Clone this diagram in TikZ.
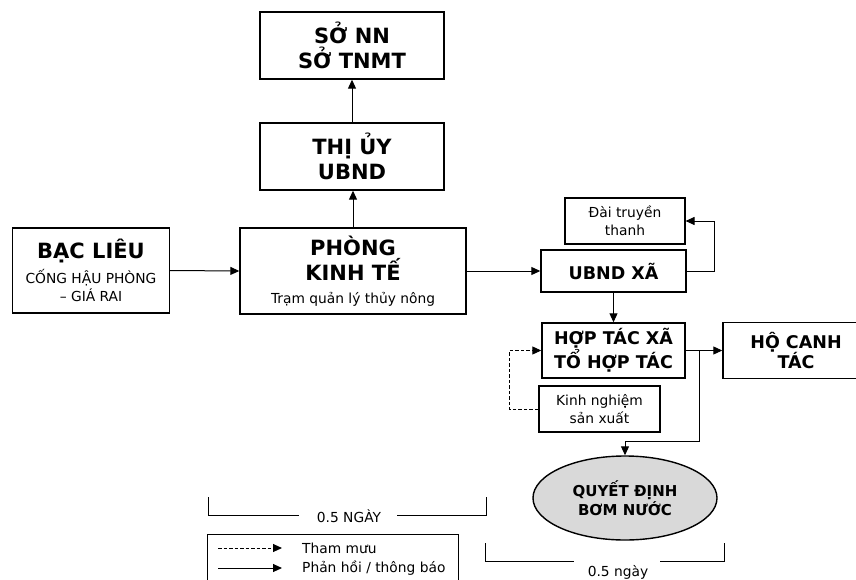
\documentclass[tikz,border=0pt]{standalone}
\usepackage{fontspec}
\setmainfont{DejaVu Sans}
\usetikzlibrary{arrows.meta,shapes.geometric,calc}
\newcommand\dgBig{\fontsize{21}{25}\selectfont\bfseries}
\newcommand\dgReg{\fontsize{13.8}{18}\selectfont\mdseries}
\begin{document}
\begin{tikzpicture}[x=1pt,y=-1pt,
  box/.style={draw, line width=1.4pt, align=center, inner sep=0pt},
  arr/.style={line width=1pt, -{Triangle[length=9pt,width=8pt]}},
  dasharr/.style={arr, dash pattern=on 3.5pt off 2pt},
  bigb/.style={font=\dgBig},
  midb/.style={font=\fontsize{17.5}{20.5}\selectfont\bfseries},
  reg/.style={font=\dgReg},
  txt/.style={reg, inner sep=0pt},
  bline/.style={line width=0.9pt},
]
\useasboundingbox (0,0) rectangle (856,580);
\clip (0,0) rectangle (856,580);

% boxes
\node[box,bigb,minimum width=184pt,minimum height=67pt] (sonn) at (352,45.5) {SỞ NN\\SỞ TNMT};
\node[box,bigb,minimum width=184pt,minimum height=67pt] (thiuy) at (352,156.5) {THỊ ỦY\\UBND};
\node[box,reg,minimum width=157pt,minimum height=85pt] (baclieu) at (91,270.5) {{\dgBig BẠC LIÊU}\\[6pt]CỐNG HẬU PHÒNG\\– GIÁ RAI};
\node[box,bigb,minimum width=226pt,minimum height=86pt] (phong) at (353,271) {PHÒNG\\KINH TẾ\\[-2pt]{\dgReg Trạm quản lý thủy nông}};
\node[box,reg,line width=1.1pt,minimum width=120pt,minimum height=46pt] (dai) at (625,221) {Đài truyền\\thanh};
\node[box,midb,minimum width=145pt,minimum height=42pt] (ubndxa) at (613.5,271) {UBND XÃ};
\node[box,midb,minimum width=143pt,minimum height=55pt] (htx) at (613.5,350.5) {HỢP TÁC XÃ\\TỔ HỢP TÁC};
\node[box,midb,minimum width=146pt,minimum height=56pt] (hocanh) at (796,350.5) {HỘ CANH\\TÁC};
\node[box,reg,line width=1.1pt,minimum width=121pt,minimum height=46pt] (kn) at (599.5,409) {Kinh nghiệm\\sản xuất};
\node[ellipse,draw,line width=1.4pt,fill=black!15,align=center,inner sep=0pt,
      minimum width=184pt,minimum height=84pt,
      font=\fontsize{15}{19}\selectfont\bfseries] (qd) at (625,498) {QUYẾT ĐỊNH\\BƠM NƯỚC};

% connectors
\draw[arr] (baclieu.east) -- (phong.west);
\draw[arr] (phong.north) -- (phong.north |- thiuy.south);
\draw[arr] (thiuy.north) -- (thiuy.north |- sonn.south);
\draw[arr] (phong.east) -- (ubndxa.west);
\draw[arr] (ubndxa.east) -- ++(28pt,0) |- (dai.east);
\draw[arr] (ubndxa.south) -- (htx.north);
\draw[arr] (htx.east) -- (hocanh.west);
\coordinate (br) at (699,441);
\draw[arr] (htx.east -| br) -- (br) -| (qd.north);
\draw[dasharr] (kn.west) -- ++(-29pt,0) |- (htx.west);

% time brackets
\node[txt] (b1) at (349,516) {0.5 NGÀY};
\draw[bline] (208,497) -- (208,515) -- (299,515);
\draw[bline] (397,515) -- (486,515) -- (486,497);
\node[txt] (b2) at (618,572) {0.5 ngày};
\draw[bline] (485,543) -- (485,561) -- (574,561);
\draw[bline] (660,561) -- (724,561) -- (724,543);

% legend
\draw[line width=1pt] (207,600) -- (207,534) -- (458,534) -- (458,600);
\node[txt,anchor=west] (lt1) at (302,548) {Tham mưu};
\node[txt,anchor=west] (lt2) at (302,568) {Phản hồi / thông báo};
\coordinate (la1) at (218,548);
\coordinate (lb1) at (282,548);
\coordinate (la2) at (218,568);
\coordinate (lb2) at (282,568);
\draw[dasharr] (la1) -- (lb1);
\draw[arr] (la2) -- (lb2);
\end{tikzpicture}
\end{document}
